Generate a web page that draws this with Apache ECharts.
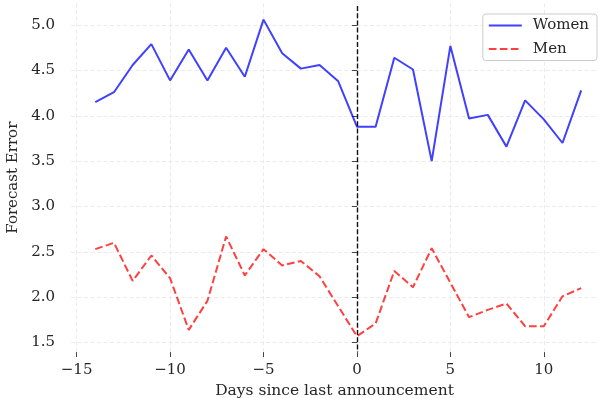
<!DOCTYPE html>
<html>
<head>
<meta charset="utf-8">
<script src="https://cdn.jsdelivr.net/npm/echarts@6/dist/echarts.min.js"></script>
<style>
  html, body { margin: 0; padding: 0; background: #fff; }
  #chart { width: 598px; height: 398px; }
</style>
</head>
<body>
<div id="chart"></div>
<script>
// Days relative to the most recent announcement
const days = [-14, -13, -12, -11, -10, -9, -8, -7, -6, -5, -4, -3, -2, -1, 0, 1, 2, 3, 4, 5, 6, 7, 8, 9, 10, 11, 12];
// Mean forecast error by group
const women = [4.15, 4.26, 4.56, 4.79, 4.39, 4.73, 4.39, 4.75, 4.43, 5.06, 4.69, 4.52, 4.56, 4.38, 3.88, 3.88, 4.64, 4.51, 3.50, 4.77, 3.97, 4.01, 3.66, 4.17, 3.96, 3.70, 4.28];
const men = [2.53, 2.60, 2.18, 2.46, 2.21, 1.64, 1.96, 2.67, 2.24, 2.53, 2.35, 2.40, 2.23, 1.90, 1.57, 1.71, 2.29, 2.11, 2.54, 2.16, 1.78, 1.86, 1.93, 1.68, 1.68, 2.01, 2.10];
// Tick positions
const xTicks = [-15, -10, -5, 0, 5, 10];
const yTicks = [1.5, 2.0, 2.5, 3.0, 3.5, 4.0, 4.5, 5.0];

const FONT = 'DejaVu Serif';
const TEXT = '#262626';
const pairs = (ys) => days.map((d, i) => [d, ys[i]]);

const gridLine = { show: true, lineStyle: { color: '#e6e6e6', width: 0.8, type: [4, 2.5] } };

const chart = echarts.init(document.getElementById('chart'), null, { renderer: 'canvas' });
chart.setOption({
  animation: false,
  backgroundColor: '#ffffff',
  grid: { left: 71, right: 0, top: 3.3, bottom: 45.9, containLabel: false, outerBoundsMode: 'none' },
  legend: {
    orient: 'vertical',
    right: 1,
    top: 14,
    itemWidth: 33,
    itemHeight: 14,
    itemGap: 8.5,
    padding: [4, 8, 4, 5],
    borderColor: '#cccccc',
    borderWidth: 1,
    borderRadius: 3,
    backgroundColor: 'rgba(255,255,255,0.8)',
    itemStyle: { opacity: 0 },
    textStyle: { fontFamily: FONT, fontSize: 15, color: TEXT, padding: [0, 0, 0, 6] },
    data: ['Women', 'Men']
  },
  xAxis: {
    type: 'value',
    min: -15.3,
    max: 12.9,
    name: 'Days since last announcement',
    nameLocation: 'middle',
    nameGap: 30,
    nameTextStyle: { fontFamily: FONT, fontSize: 15.5, color: TEXT },
    axisLine: { show: false },
    axisTick: { show: true, length: 5, customValues: xTicks, lineStyle: { color: '#444', width: 1 } },
    axisLabel: {
      customValues: xTicks, margin: 11, fontFamily: FONT, fontSize: 15, color: TEXT,
      formatter: (v) => (v < 0 ? '\u2212' + Math.abs(v) : String(v))
    },
    splitLine: Object.assign({ customValues: xTicks }, gridLine)
  },
  yAxis: {
    type: 'value',
    min: 1.395,
    max: 5.24,
    name: 'Forecast Error',
    nameLocation: 'middle',
    nameGap: 49,
    nameTextStyle: { fontFamily: FONT, fontSize: 15, color: TEXT },
    axisLine: { show: false },
    axisTick: { show: true, length: 5, customValues: yTicks, lineStyle: { color: '#444', width: 1 } },
    axisLabel: {
      customValues: yTicks, margin: 16, fontFamily: FONT, fontSize: 15, color: TEXT,
      formatter: (v) => v.toFixed(1)
    },
    splitLine: Object.assign({ customValues: yTicks }, gridLine)
  },
  series: [
    {
      name: 'Women',
      type: 'line',
      data: pairs(women),
      symbol: 'none',
      clip: false,
      lineStyle: { color: 'rgba(0,0,255,0.75)', width: 2 },
      itemStyle: { color: 'rgba(0,0,255,0.75)' },
      markLine: {
        silent: true,
        symbol: 'none',
        label: { show: false },
        lineStyle: { color: '#111', width: 1.4, type: [5, 2.2] },
        data: [[{ coord: [0, 5.21] }, { coord: [0, 1.395] }]]
      }
    },
    {
      name: 'Men',
      type: 'line',
      data: pairs(men),
      symbol: 'none',
      clip: false,
      lineStyle: { color: 'rgba(255,0,0,0.75)', width: 2, type: [7.7, 3.3] },
      itemStyle: { color: 'rgba(255,0,0,0.75)' }
    }
  ]
});
</script>
</body>
</html>
